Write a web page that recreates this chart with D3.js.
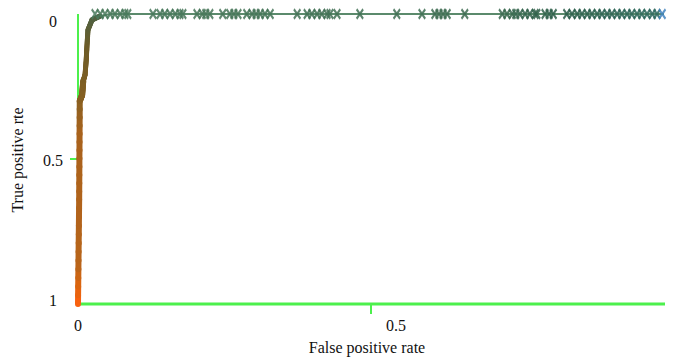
<!DOCTYPE html>
<html>
<head>
<meta charset="utf-8">
<script src="https://cdn.jsdelivr.net/npm/d3@7"></script>
<style>
  body { margin: 0; background: #fff; }
  svg text { font-family: "Liberation Serif", "DejaVu Serif", serif; fill: #111; }
</style>
</head>
<body>
<svg id="chart" width="677" height="360"></svg>
<script>
// ROC curve points (as read against the axis: 0 at top, 1 at bottom)
const curveFpr = [0, 0.002, 0.003, 0.007, 0.009, 0.012, 0.014, 0.015, 0.017, 0.024, 0.038, 0.055, 1.0];
const curveTpr = [1.0, 0.64, 0.30, 0.28, 0.23, 0.21, 0.16, 0.12, 0.055, 0.02, 0.007, 0.0, 0.0];

// threshold markers along the top of the curve
const markerFpr = [
  0.029, 0.038, 0.046, 0.055, 0.063, 0.072, 0.080, 0.085,
  0.128, 0.140, 0.148, 0.157, 0.166, 0.174, 0.179,
  0.203, 0.212, 0.218, 0.225,
  0.247, 0.259, 0.266, 0.273, 0.288, 0.297, 0.304, 0.311, 0.319, 0.328,
  0.374, 0.391, 0.399, 0.408, 0.416, 0.425, 0.430, 0.442, 0.481,
  0.544, 0.587, 0.609, 0.616, 0.623, 0.630, 0.660,
  0.724, 0.732, 0.741, 0.747, 0.754, 0.763, 0.771, 0.780, 0.783,
  0.797, 0.804, 0.811,
  0.834, 0.843, 0.852, 0.860, 0.869, 0.877, 0.886, 0.894, 0.903, 0.911,
  0.920, 0.928, 0.937, 0.945, 0.954, 0.962, 0.971, 0.980, 0.988, 0.997
];

const xTicks = [0, 0.5];
const yTicks = [0, 0.5, 1];
const xTitle = 'False positive rate';
const yTitle = 'True positive rte';

const svg = d3.select('#chart');

const x = d3.scaleLinear().domain([0, 1]).range([78, 664]);
const y = d3.scaleLinear().domain([0, 1]).range([14, 304]);
// the tick labels in the picture sit a bit off their ticks
const xLab = d3.scaleLinear().domain([0, 1]).range([78, 714]);
const yLab = d3.scaleLinear().domain([0, 1]).range([21, 300]);

const green = '#4cf04c';

// axes
svg.append('line')
    .attr('x1', x(0)).attr('x2', x(1) + 1)
    .attr('y1', y(1)).attr('y2', y(1))
    .attr('stroke', green).attr('stroke-width', 3);
svg.append('line')
    .attr('x1', x(0)).attr('x2', x(0))
    .attr('y1', y(0)).attr('y2', y(1))
    .attr('stroke', green).attr('stroke-width', 2);

svg.selectAll('.xtick')
    .data(xTicks.filter(d => d > 0))
    .enter().append('line')
    .attr('x1', d => x(d)).attr('x2', d => x(d))
    .attr('y1', y(1)).attr('y2', y(1) + 10)
    .attr('stroke', green).attr('stroke-width', 2);
svg.selectAll('.ytick')
    .data(yTicks.filter(d => d > 0 && d < 1))
    .enter().append('line')
    .attr('x1', x(0) - 8).attr('x2', x(0))
    .attr('y1', d => y(d)).attr('y2', d => y(d))
    .attr('stroke', green).attr('stroke-width', 2);

svg.selectAll('.xlab')
    .data(xTicks)
    .enter().append('text')
    .attr('x', d => xLab(d))
    .attr('y', 331)
    .attr('text-anchor', 'middle')
    .style('font-size', '16px')
    .text(d => d);
svg.selectAll('.ylab')
    .data(yTicks)
    .enter().append('text')
    .attr('x', 53)
    .attr('y', d => yLab(d))
    .attr('dy', '0.35em')
    .attr('text-anchor', 'middle')
    .style('font-size', '16px')
    .text(d => d);

svg.append('text')
    .attr('x', 367).attr('y', 353)
    .attr('text-anchor', 'middle')
    .style('font-size', '16px')
    .text(xTitle);
svg.append('text')
    .attr('transform', 'translate(23,160) rotate(-90)')
    .attr('text-anchor', 'middle')
    .style('font-size', '16px')
    .text(yTitle);

// curve, coloured from orange at the bottom to grey-green across the top
const pts = curveFpr.map((f, i) => ({ f: f, t: curveTpr[i] }));
const riseColor = d3.scaleLinear()
    .domain([1, 0.92, 0.86, 0.4, 0.28, 0.1, 0])
    .range(['#ff6010', '#d8650f', '#b8641a', '#a8621c', '#866022', '#6c5c28', '#4e6244']);

for (let i = 0; i < pts.length - 1; i++) {
  const a = pts[i], b = pts[i + 1];
  const top = a.t < 0.01 && b.t < 0.01;
  if (top) {
    svg.append('line')
        .attr('x1', x(a.f)).attr('y1', y(a.t))
        .attr('x2', x(b.f)).attr('y2', y(b.t))
        .attr('stroke', '#5b8a6c')
        .attr('stroke-width', 2);
    continue;
  }
  // the rising part changes colour along its length, so split it up
  const n = 12;
  for (let k = 0; k < n; k++) {
    const u0 = k / n, u1 = (k + 1) / n;
    const t0 = a.t + (b.t - a.t) * u0, t1 = a.t + (b.t - a.t) * u1;
    const f0 = a.f + (b.f - a.f) * u0, f1 = a.f + (b.f - a.f) * u1;
    svg.append('line')
        .attr('x1', x(f0)).attr('y1', y(t0))
        .attr('x2', x(f1)).attr('y2', y(t1))
        .attr('stroke', riseColor((t0 + t1) / 2))
        .attr('stroke-width', a.t > 0.25 ? 6 : 5)
        .attr('stroke-linecap', 'round');
  }
}

// markers
const markColor = d3.scaleLinear()
    .domain([0, 0.7, 0.83, 0.99, 1])
    .range(['#4a7a5c', '#3c6a50', '#2a5c48', '#2f6a60', '#4a8fe8']);
const sym = d3.symbol().type(d3.symbolX).size(36);

svg.selectAll('.mark')
    .data(markerFpr)
    .enter().append('path')
    .attr('d', sym)
    .attr('transform', d => 'translate(' + x(d) + ',' + y(0) + ') scale(0.9,1.3)')
    .attr('fill', 'none')
    .attr('stroke', d => markColor(d))
    .attr('stroke-width', 2)
    .attr('opacity', 0.85);
</script>
</body>
</html>
